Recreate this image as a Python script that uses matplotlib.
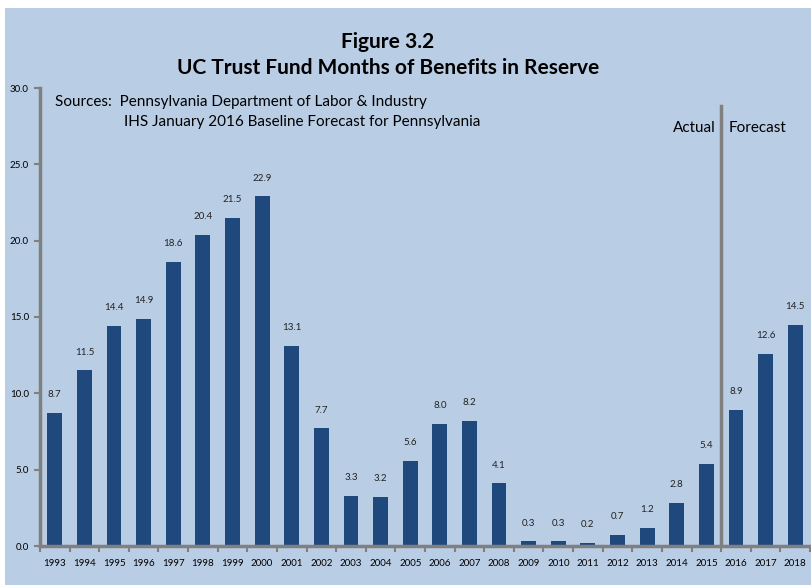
import matplotlib.pyplot as plt
import numpy as np
from matplotlib.patches import Rectangle

years = ['1993', '1994', '1995', '1996', '1997', '1998', '1999', '2000', '2001',
         '2002', '2003', '2004', '2005', '2006', '2007', '2008', '2009', '2010',
         '2011', '2012', '2013', '2014', '2015', '2016', '2017', '2018']
months = [8.7, 11.5, 14.4, 14.9, 18.6, 20.4, 21.5, 22.9, 13.1, 7.7, 3.3, 3.2, 5.6,
          8.0, 8.2, 4.1, 0.3, 0.3, 0.2, 0.7, 1.2, 2.8, 5.4, 8.9, 12.6, 14.5]
yticks = [0, 5, 10, 15, 20, 25, 30]

plt.rcParams['font.family'] = ['Lato', 'DejaVu Sans']

bg = '#b9cde5'
bar_color = '#1f497d'
gray = '#808080'

fig = plt.figure(figsize=(8.11, 5.85), dpi=100, facecolor='white')
fig.patches.append(Rectangle((5/811, 0), 1, 1 - 8/585, transform=fig.transFigure,
                             facecolor=bg, edgecolor='none', zorder=-1))

ax = fig.add_axes([40/811, 39/585, 770/811, 458/585])
ax.patch.set_visible(False)

x = np.arange(len(years))
ax.bar(x, months, width=0.5, color=bar_color, zorder=2)
for xi, v in zip(x, months):
    ax.annotate(f'{v:.1f}', (xi, v), xytext=(0, 10), textcoords='offset points',
                ha='center', va='bottom', fontsize=7, color='#222222')

ax.set_xlim(-0.5, len(years) - 0.5)
ax.set_ylim(0, 30)
ax.set_yticks(yticks)
ax.set_yticklabels([f'{t:.1f}' for t in yticks], fontsize=7)
ax.set_xticks(x)
ax.set_xticklabels(years, fontsize=7)
ax.set_xticks(np.arange(-0.5, len(years)), minor=True)
ax.tick_params(axis='x', which='major', length=0, pad=9)
ax.tick_params(axis='x', which='minor', length=4, width=1.5, color=gray, direction='out')
ax.tick_params(axis='y', length=4, width=1.5, color=gray, pad=4)

for s in ['top', 'right']:
    ax.spines[s].set_visible(False)
for s in ['left', 'bottom']:
    ax.spines[s].set_color(gray)
    ax.spines[s].set_linewidth(2.5)

# actual / forecast divider
ax.plot([22.5, 22.5], [0, 28.8], color=gray, linewidth=2.5, zorder=3)
ax.text(22.3, 27.4, 'Actual', ha='right', va='center', fontsize=11)
ax.text(22.75, 27.4, 'Forecast', ha='left', va='center', fontsize=11)

fig.text(388/811, 1 - 42/585, 'Figure 3.2', ha='center', va='center',
         fontsize=15, fontweight='bold')
fig.text(388/811, 1 - 68/585, 'UC Trust Fund Months of Benefits in Reserve',
         ha='center', va='center', fontsize=15, fontweight='bold')

fig.text(55/811, 1 - 102/585, 'Sources:  Pennsylvania Department of Labor & Industry',
         ha='left', va='center', fontsize=11)
fig.text(124/811, 1 - 122/585, 'IHS January 2016 Baseline Forecast for Pennsylvania',
         ha='left', va='center', fontsize=11)

plt.savefig('out.png', dpi=100, facecolor='white')
